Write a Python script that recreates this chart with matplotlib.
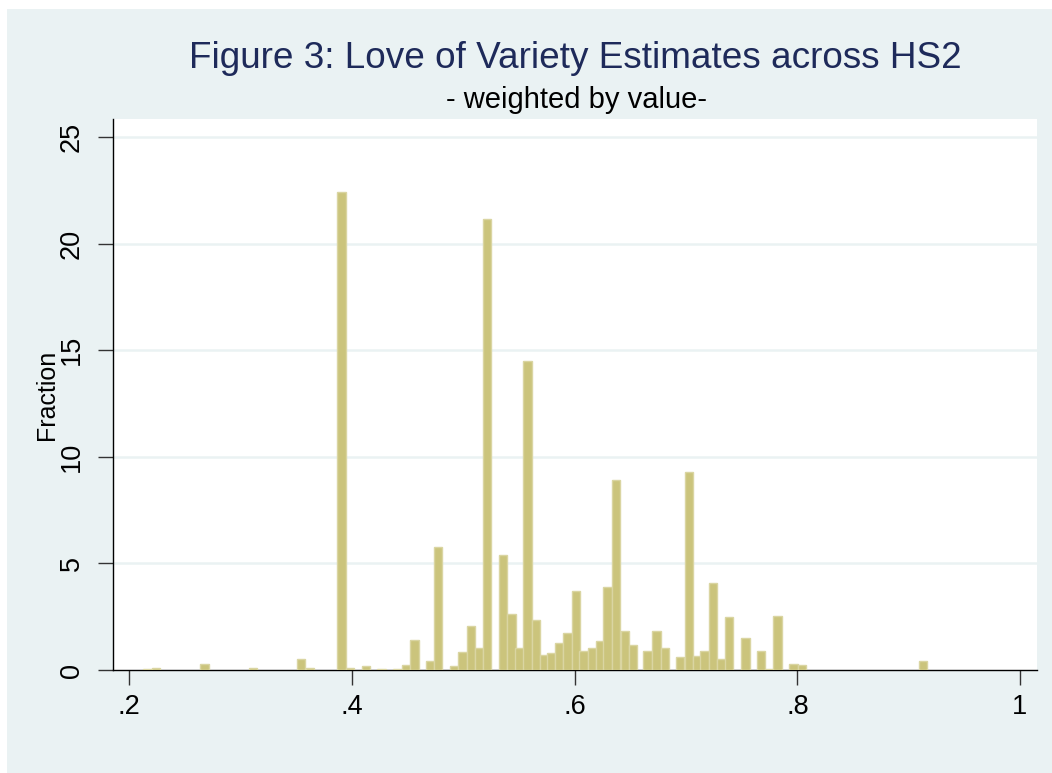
import matplotlib
matplotlib.use("Agg")
import matplotlib.pyplot as plt
from matplotlib.patches import Rectangle

######## DATA ########
# bar centres (love of variety estimate) and fraction (%)
centers = [0.2163, 0.2242, 0.2674, 0.3109, 0.3544, 0.3622, 0.3905, 0.3982,
           0.4125, 0.4264, 0.4409, 0.4484, 0.4562, 0.4698, 0.4775, 0.4918,
           0.4993, 0.5068, 0.5140, 0.5215, 0.5355, 0.5433, 0.5505, 0.5577,
           0.5652, 0.5722, 0.5789, 0.5861, 0.5936, 0.6011, 0.6081, 0.6153,
           0.6225, 0.6295, 0.6373, 0.6451, 0.6523, 0.6654, 0.6734, 0.6812,
           0.6948, 0.7025, 0.7099, 0.7166, 0.7242, 0.7318, 0.7388, 0.7533,
           0.7675, 0.7747, 0.7822, 0.7965, 0.8044, 0.9127]
fractions = [0.03, 0.08, 0.27, 0.08, 0.50, 0.08, 22.43, 0.08,
             0.18, 0.05, 0.03, 0.22, 1.39, 0.44, 5.78, 0.19,
             0.83, 2.08, 1.02, 21.17, 5.39, 2.63, 1.02, 14.51,
             2.35, 0.70, 0.78, 1.27, 1.75, 3.72, 0.89, 1.02,
             1.35, 3.87, 8.92, 1.83, 1.16, 0.88, 1.84, 1.03,
             0.63, 9.28, 0.68, 0.91, 4.10, 0.50, 2.50, 1.52,
             0.89, 0.05, 2.55, 0.27, 0.22, 0.44]
bar_width = 0.0075

x_ticks = [0.2, 0.4, 0.6, 0.8, 1.0]
x_labels = ['.2', '.4', '.6', '.8', '1']
y_ticks = [0, 5, 10, 15, 20, 25]

title = 'Figure 3: Love of Variety Estimates across HS2'
subtitle = '- weighted by value-'

###### STYLE ######
plt.rcParams['font.family'] = ['Liberation Sans', 'DejaVu Sans']
bg = '#EAF2F3'
bar_fill = '#CBC47C'
bar_edge = '#DAD5A2'

W, H = 1052, 773
fig = plt.figure(figsize=(W / 100, H / 100), dpi=100)
fig.patch.set_facecolor('white')
# Stata-like outer graph region
fig.add_artist(Rectangle((7 / W, 0), 1 - 7 / W, 1 - 9 / H, transform=fig.transFigure,
                         facecolor=bg, edgecolor='none', zorder=0))

ax = fig.add_axes([112.7 / W, 1 - 670 / H, (1036.7 - 112.7) / W, (670 - 119) / H])
ax.set_facecolor('white')

ax.bar(centers, fractions, width=bar_width, color=bar_fill, edgecolor=bar_edge,
       linewidth=1.0, zorder=3)

ax.set_xlim(0.1851, 1.015)
ax.set_ylim(0, 25.84)

ax.set_xticks(x_ticks)
ax.set_xticklabels(x_labels)
ax.set_yticks(y_ticks)
ax.set_yticklabels([str(v) for v in y_ticks], rotation=90, va='center')

# gridlines (skip zero, that is the axis)
for v in y_ticks[1:]:
    ax.axhline(v, color=bg, linewidth=1.8, zorder=1)

for side in ['top', 'right']:
    ax.spines[side].set_visible(False)
for side in ['left', 'bottom']:
    ax.spines[side].set_color('black')
    ax.spines[side].set_linewidth(1.0)

ax.tick_params(axis='both', direction='out', length=11, width=1.0, color='#333333',
               labelsize=19.5, labelcolor='black')
ax.tick_params(axis='x', pad=6)
ax.tick_params(axis='y', pad=9)

ax.set_ylabel('Fraction', fontsize=18)
ax.yaxis.set_label_coords(-0.058, 0.5)

fig.text(575 / W, 1 - 58 / H, title, ha='center', va='center', fontsize=26.6,
         color='#1E2A5A')
fig.text(576 / W, 1 - 100 / H, subtitle, ha='center', va='center', fontsize=21,
         color='black')

fig.savefig('out.png', dpi=100, facecolor=fig.get_facecolor())
